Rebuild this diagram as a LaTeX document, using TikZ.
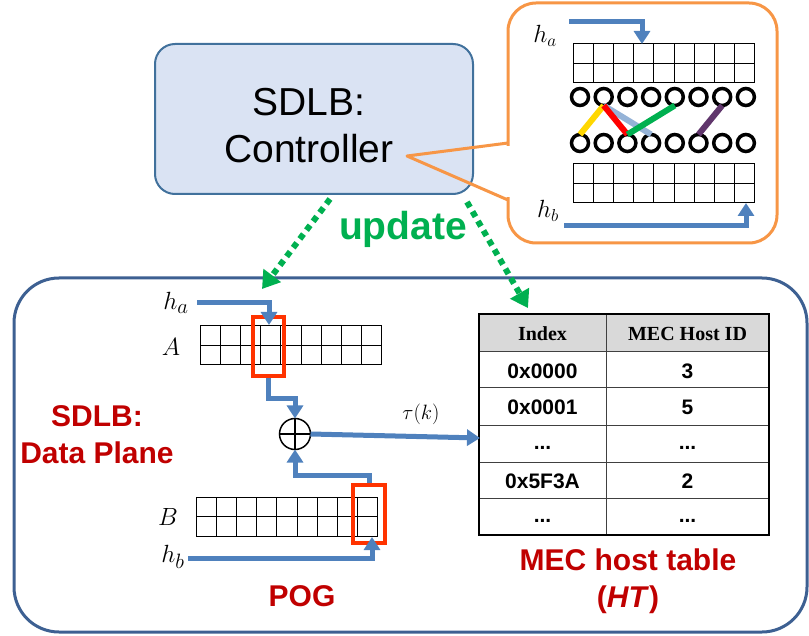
\documentclass[tikz,border=0pt]{standalone}
\usepackage{fontspec}
\newfontfamily\arial{Liberation Sans}
\newfontfamily\tnr{Liberation Serif}
\usetikzlibrary{arrows.meta}
\definecolor{ablue}{RGB}{79,129,189}
\definecolor{ctlfill}{RGB}{218,227,243}
\definecolor{ctlline}{RGB}{65,113,156}
\definecolor{orng}{RGB}{247,150,70}
\definecolor{dplane}{RGB}{61,96,146}
\definecolor{ugreen}{RGB}{0,176,80}
\definecolor{dred}{RGB}{192,0,0}
\definecolor{hred}{RGB}{255,51,0}
\definecolor{hdrgray}{RGB}{217,217,217}
\definecolor{lblue}{RGB}{149,179,215}
\definecolor{purp}{RGB}{96,54,108}
\definecolor{yel}{RGB}{255,215,0}
\definecolor{lgreen}{RGB}{0,176,80}
\tikzset{
  gridline/.style={line width=1pt, black},
  flow/.style={draw=ablue, line width=5pt, -{Triangle[width=16pt,length=13pt]}},
  upd/.style={draw=ugreen, line width=6pt, dash pattern=on 6pt off 5pt, -{Triangle[width=21pt,length=17pt]}},
  ring/.style={circle, draw, line width=3.5pt, minimum size=17pt, inner sep=0pt, outer sep=0pt},
  link/.style={line width=6pt},
  hbox/.style={draw=hred, line width=3.5pt, inner sep=0pt},
  lbl/.style={inner sep=0pt, font=\fontsize{28}{32}\selectfont},
  redtxt/.style={inner sep=0pt, text=dred, align=center, font=\arial\bfseries\fontsize{30}{37}\selectfont},
  cell/.style={inner sep=0pt, font=\arial\bfseries\fontsize{21}{25}\selectfont},
  hcell/.style={inner sep=0pt, font=\tnr\bfseries\fontsize{20}{24}\selectfont},
}
\newcommand{\cellgrid}[2]{%
  \draw[gridline] (#1,#2) rectangle ++(181.8,39);
  \foreach \k in {1,...,8} \draw[gridline] ({#1+\k*20.2},#2) -- ++(0,39);
  \draw[gridline] (#1,#2+19.5) -- ++(181.8,0);
}
\begin{document}
\begin{tikzpicture}[x=1pt,y=-1pt]
\useasboundingbox (0,0) rectangle (809,636);

% ---------- bottom container ----------
\draw[dplane, line width=3pt, rounded corners=45pt] (14,278) rectangle (807,632);

% ---------- controller ----------
\node[draw=ctlline, fill=ctlfill, line width=2pt, rounded corners=20pt,
      minimum width=318pt, minimum height=150pt, inner sep=0pt] (ctl) at (314,119) {};
\node[inner sep=0pt, align=center, font=\arial\fontsize{39}{47}\selectfont] (ctltxt) at (309,126) {SDLB:\\Controller};

% ---------- callout ----------
\draw[orng, line width=3pt, rounded corners=28pt] (508,3) rectangle (777,243);
\draw[white, line width=6pt] (508,146) -- (508,197);
\coordinate (ctip) at (407,156);
\draw[orng, line width=3pt, line join=round] (508,143) -- (ctip) -- (508,200);

% callout contents
\node[lbl, font=\fontsize{25}{29}\selectfont] (ha1) at (545,36) {$h_a$};
\node[lbl, font=\fontsize{25}{29}\selectfont] (hb1) at (548,211) {$h_b$};
\cellgrid{573}{44}
\cellgrid{573}{164}
\coordinate (ha1s) at (569,22);
\coordinate (ha1e) at (642,44);
\draw[flow] (ha1s) -- (ha1e |- ha1s) -- (ha1e);
\coordinate (hb1s) at (564,226);
\coordinate (hb1e) at (746,203);
\draw[flow] (hb1s) -- (hb1e |- hb1s) -- (hb1e);
\foreach \i in {0,...,7} {
  \node[ring] (t\i) at ({580+\i*23.7},97) {};
  \node[ring] (b\i) at ({580+\i*23.7},143) {};
}
\draw[link, lblue] (t1.south) -- (b3.north);
\draw[link, yel] (t1.south) -- (b0.north);
\draw[link, red] (t1.south) -- (b2.north);
\draw[link, lgreen] (t4.south) -- (b2.north);
\draw[link, purp] (t6.south) -- (b5.north);

% ---------- update arrows ----------
\node[inner sep=0pt, text=ugreen, font=\arial\bfseries\fontsize{39}{47}\selectfont] (updl) at (403,229) {update};
\coordinate (u1s) at (330,199);
\coordinate (u1e) at (262,289);
\coordinate (u2s) at (467,202);
\coordinate (u2e) at (528,308);
\draw[upd] (u1s) -- (u1e);
\draw[upd] (u2s) -- (u2e);

% ---------- data plane ----------
\node[redtxt] (dp) at (97,435) {SDLB:\\Data Plane};
\node[redtxt] (pog) at (302,596) {POG};
\node[redtxt] (htl) at (628,581) {MEC host table\\(\textit{HT})};

\node[lbl] (ha2) at (176,303) {$h_a$};
\node[lbl] (la) at (171,347) {$A$};
\node[lbl] (lb) at (168,517) {$B$};
\node[lbl] (hb2) at (173,557) {$h_b$};

\cellgrid{200}{326}
\cellgrid{196}{497}

\node[hbox, minimum width=31pt, minimum height=59pt] (ra) at (268.5,346.5) {};
\node[hbox, minimum width=32pt, minimum height=58pt] (rb) at (369,514) {};

\node[circle, draw, line width=1.5pt, minimum size=31pt, inner sep=0pt, outer sep=0pt] (xor) at (295,434) {};
\draw[line width=1.5pt] (xor.north) -- (xor.south) (xor.west) -- (xor.east);

\coordinate (ha2s) at (197,303);
\coordinate (ha2e) at (269,325);
\draw[flow] (ha2s) -- (ha2e |- ha2s) -- (ha2e);
\draw[flow] (ra.south) -- ++(0,21) -| (xor.north);
\draw[flow] (rb.north) -- ++(0,-8) -| (xor.south);
\coordinate (hb2s) at (188,558);
\coordinate (hb2e) at (372,537);
\draw[flow] (hb2s) -- (hb2e |- hb2s) -- (hb2e);

% ---------- table ----------
\fill[hdrgray] (479,314) rectangle (769,352);
\foreach \yy in {352,388,425,462,498} \draw[line width=1pt, black!75] (479,\yy) -- (769,\yy);
\draw[line width=1pt, black!75] (606,314) -- (606,535);
\draw[line width=1.4pt] (479,314) rectangle (769,535);
\node[hcell] (h1) at (542.5,334) {Index};
\node[hcell] (h2) at (687.5,334) {MEC Host ID};
\node[cell] (c11) at (542.5,371) {0x0000};
\node[cell] (c12) at (687.5,371) {3};
\node[cell] (c21) at (542.5,407) {0x0001};
\node[cell] (c22) at (687.5,407) {5};
\node[cell] (c31) at (542.5,448) {...};
\node[cell] (c32) at (687.5,448) {...};
\node[cell] (c41) at (542.5,481) {0x5F3A};
\node[cell] (c42) at (687.5,481) {2};
\node[cell] (c51) at (542.5,521) {...};
\node[cell] (c52) at (687.5,521) {...};

\coordinate (tin) at (480,438);
\draw[flow] (xor.east) -- (tin);
\node[inner sep=0pt, font=\fontsize{22}{26}\selectfont] (tau) at (421,414) {$\tau(k)$};
\end{tikzpicture}
\end{document}
